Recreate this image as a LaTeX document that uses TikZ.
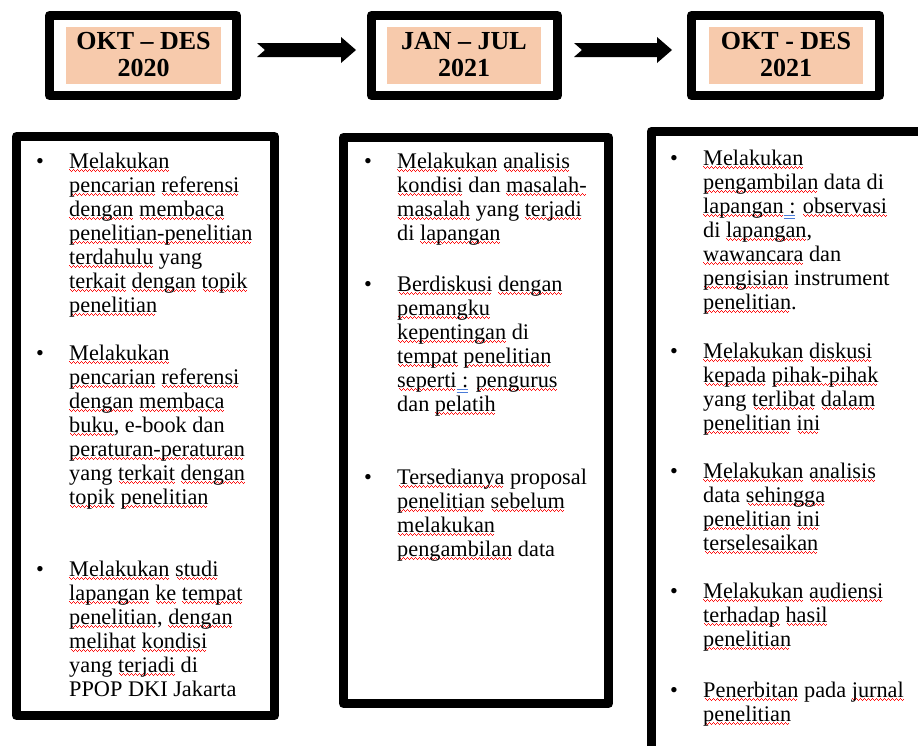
\documentclass[tikz,border=0pt]{standalone}
\usepackage{fontspec}
\setmainfont{Liberation Serif}
\newfontfamily\tnr{Liberation Serif}
\usetikzlibrary{calc}
\definecolor{peach}{HTML}{F7CAAC}
\definecolor{spell}{HTML}{FF1010}
\definecolor{gram}{HTML}{4A7BD8}
\newsavebox\sqbox
\newcommand\wavepat{\hbox{\rule[-2.4pt]{1pt}{1.2pt}\rule[-3.3pt]{1pt}{1.2pt}\rule[-4.2pt]{1pt}{1.2pt}\rule[-3.3pt]{1pt}{1.2pt}}}
\newcommand\sq[1]{\sbox\sqbox{#1}\leavevmode\rlap{{\color{spell}\hbox to\wd\sqbox{\cleaders\wavepat\hfill}}}\usebox\sqbox}
\newcommand\bcol{\leavevmode\rlap{{\color{gram}\rule[-3pt]{11pt}{0.8pt}}}\rlap{{\color{gram}\rule[-5.4pt]{11pt}{0.8pt}}}\ :}
\newcommand\lines[1]{\begin{tabular}[t]{@{}l@{}}#1\end{tabular}}
\newcommand\hlines[1]{\begin{tabular}[t]{@{}c@{}}#1\end{tabular}}
\newcommand\blockarrow[2]{\fill[blockarrow] ($(#1)+(0,-7)$) -- ($(#1)+(8,0)$) -- ($(#1)+(0,7)$) -- ($(#2)+(-15,7)$) -- ($(#2)+(-15,13)$) -- (#2) -- ($(#2)+(-15,-13)$) -- ($(#2)+(-15,-7)$) -- cycle;}
\tikzset{
 frame/.style={draw=black, line width=9pt, line join=round, rectangle, inner sep=0pt, outer sep=0pt, fill=white},
 period/.style={fill=peach, inner sep=0pt, minimum height=57pt},
 htext/.style={inner sep=0pt, anchor=base, font=\tnr\fontsize{26}{27}\selectfont\bfseries},
 itemtext/.style={inner sep=0pt, anchor=base west, font=\tnr\fontsize{22.3}{24}\selectfont},
 bul/.style={inner sep=0pt, anchor=base, font=\tnr\fontsize{22.3}{24}\selectfont},
 blockarrow/.style={fill=black},
}
\begin{document}
\begin{tikzpicture}[x=1pt,y=-1pt]
\useasboundingbox (0,0) rectangle (918,745);
\clip (0,0) rectangle (918,745);
\fill[white] (0,0) rectangle (918,745);
% header frames
\node[frame, minimum width=187pt, minimum height=80pt] (h1) at (143,55.5) {};
\node[frame, minimum width=186pt, minimum height=80pt] (h2) at (464.5,55.5) {};
\node[frame, minimum width=188pt, minimum height=80pt] (h3) at (785.5,55.5) {};
\node[period, minimum width=155pt] (p1) at (143.5,55.5) {};
\node[period, minimum width=154pt] (p2) at (464,55.5) {};
\node[period, minimum width=154pt] (p3) at (786,55.5) {};
\node[htext] (t1) at (143.5,49) {\hlines{OKT – DES\\2020}};
\node[htext] (t2) at (464,49) {\hlines{JAN – JUL\\2021}};
\node[htext] (t3) at (786,49) {\hlines{OKT - DES\\2021}};
% arrows
\coordinate (a1s) at ($(h1.east)+(20.5,-5.5)$);
\coordinate (a1e) at ($(h2.west)+(-15.5,-5.5)$);
\coordinate (a2s) at ($(h2.east)+(16.5,-5.5)$);
\coordinate (a2e) at ($(h3.west)+(-19.5,-5.5)$);
\blockarrow{a1s}{a1e}
\blockarrow{a2s}{a2e}
% lower frames
\node[frame, minimum width=258pt, minimum height=579pt] (b1) at (145.5,426) {};
\node[frame, minimum width=265pt, minimum height=566pt] (b2) at (476,420.5) {};
\node[frame, minimum width=289pt, minimum height=638.5pt] (b3) at (795.5,450.75) {};
% box A
\node[bul] (ba1) at (40,168) {•};
\node[itemtext] (ia1) at (69,168) {\lines{\sq{Melakukan}\\ \sq{pencarian} \sq{referensi}\\ \sq{dengan} \sq{membaca}\\ \sq{penelitian-penelitian}\\ \sq{terdahulu} yang\\ \sq{terkait} \sq{dengan} \sq{topik}\\ \sq{penelitian}}};
\node[bul] (ba2) at (40,360) {•};
\node[itemtext] (ia2) at (69,360) {\lines{\sq{Melakukan}\\ \sq{pencarian} \sq{referensi}\\ \sq{dengan} \sq{membaca}\\ \sq{buku}, e-book dan\\ \sq{peraturan-peraturan}\\ yang \sq{terkait} \sq{dengan}\\ \sq{topik} \sq{penelitian}}};
\node[bul] (ba3) at (40,576) {•};
\node[itemtext] (ia3) at (69,576) {\lines{\sq{Melakukan} \sq{studi}\\ \sq{lapangan} \sq{ke} \sq{tempat}\\ \sq{penelitian}, \sq{dengan}\\ \sq{melihat} \sq{kondisi}\\ yang \sq{terjadi} di\\ PPOP DKI Jakarta}};
% box B
\node[bul] (bb1) at (368,168) {•};
\node[itemtext] (ib1) at (397,168) {\lines{\sq{Melakukan} \sq{analisis}\\ \sq{kondisi} dan \sq{masalah-}\\ \sq{masalah} yang \sq{terjadi}\\ di \sq{lapangan}}};
\node[bul] (bb2) at (368,291) {•};
\node[itemtext] (ib2) at (397,291) {\lines{\sq{Berdiskusi} \sq{dengan}\\ \sq{pemangku}\\ \sq{kepentingan} di\\ \sq{tempat} \sq{penelitian}\\ \sq{seperti}\bcol{} \sq{pengurus}\\ dan \sq{pelatih}}};
\node[bul] (bb3) at (368,484) {•};
\node[itemtext] (ib3) at (397,484) {\lines{\sq{Tersedianya} proposal\\ \sq{penelitian} \sq{sebelum}\\ \sq{melakukan}\\ \sq{pengambilan} data}};
% box C
\node[bul] (bc1) at (674,165) {•};
\node[itemtext] (ic1) at (703,165) {\lines{\sq{Melakukan}\\ \sq{pengambilan} data di\\ \sq{lapangan}\bcol{} \sq{observasi}\\ di \sq{lapangan},\\ \sq{wawancara} dan\\ \sq{pengisian} instrument\\ \sq{penelitian}.}};
\node[bul] (bc2) at (674,358) {•};
\node[itemtext] (ic2) at (703,358) {\lines{\sq{Melakukan} \sq{diskusi}\\ \sq{kepada} \sq{pihak-pihak}\\ yang \sq{terlibat} \sq{dalam}\\ \sq{penelitian} \sq{ini}}};
\node[bul] (bc3) at (674,478) {•};
\node[itemtext] (ic3) at (703,478) {\lines{\sq{Melakukan} \sq{analisis}\\ data \sq{sehingga}\\ \sq{penelitian} \sq{ini}\\ \sq{terselesaikan}}};
\node[bul] (bc4) at (674,598) {•};
\node[itemtext] (ic4) at (703,598) {\lines{\sq{Melakukan} \sq{audiensi}\\ \sq{terhadap} \sq{hasil}\\ \sq{penelitian}}};
\node[bul] (bc5) at (674,697) {•};
\node[itemtext] (ic5) at (703,697) {\lines{\sq{Penerbitan} pada \sq{jurnal}\\ \sq{penelitian}}};
\end{tikzpicture}
\end{document}
